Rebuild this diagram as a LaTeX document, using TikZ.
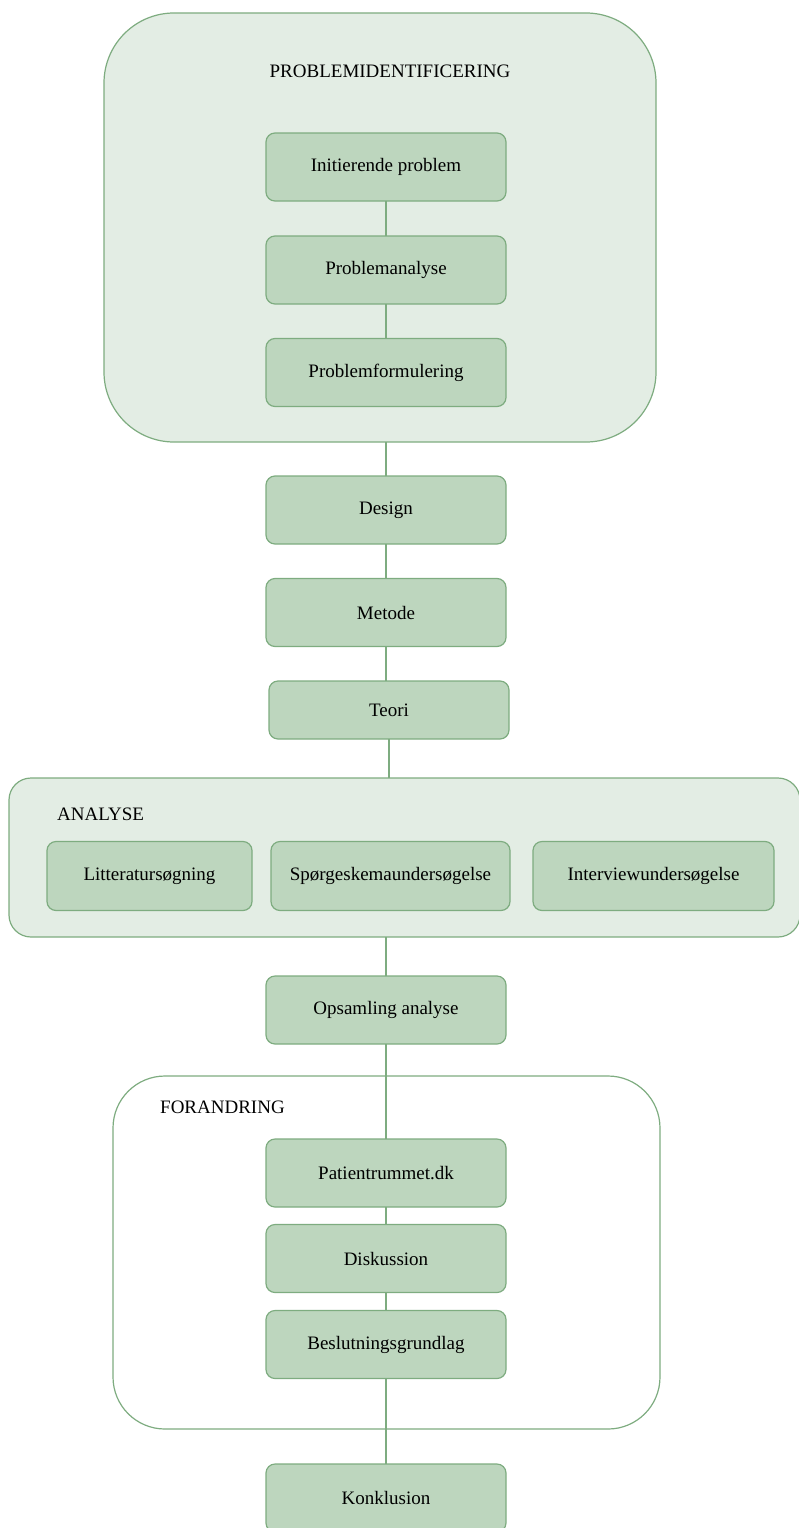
\documentclass[tikz,border=0pt]{standalone}
\usepackage{fontspec}
\setmainfont{Liberation Serif}
\definecolor{boxfill}{RGB}{189,214,190}
\definecolor{boxline}{RGB}{126,172,128}
\definecolor{grpfill}{RGB}{227,237,228}
\tikzset{
  stepbox/.style={draw=boxline, fill=boxfill, line width=1.2pt, rounded corners=9pt,
    minimum width=240pt, minimum height=68pt, inner sep=0pt, outer sep=0pt,
    font=\fontsize{19}{23}\selectfont},
  grp/.style={draw=boxline, line width=1.2pt, inner sep=0pt, outer sep=0pt},
  lbl/.style={font=\fontsize{19}{23}\selectfont, inner sep=0pt},
  conn/.style={draw=boxline, line width=1.2pt}
}
\begin{document}
\begin{tikzpicture}[x=1pt,y=-1pt]
\useasboundingbox (0,0) rectangle (798,1528);
% containers
\node[grp, fill=grpfill, rounded corners=70pt, minimum width=552pt, minimum height=429pt] (top) at (380,227.5) {};
\node[grp, fill=grpfill, rounded corners=22pt, minimum width=791pt, minimum height=159pt] (analyse) at (404.5,857.5) {};
\node[grp, fill=white, rounded corners=52pt, minimum width=547pt, minimum height=353pt] (forandring) at (386.5,1252.5) {};
% labels
\node[lbl] (ltop) at (390,71) {PROBLEMIDENTIFICERING};
\node[lbl, anchor=west] (lana) at (57,814) {ANALYSE};
\node[lbl, anchor=west] (lfor) at (160,1107) {FORANDRING};
% boxes
\node[stepbox] (init) at (386,167) {Initierende problem};
\node[stepbox] (panal) at (386,270) {Problemanalyse};
\node[stepbox] (pform) at (386,372.5) {Problemformulering};
\node[stepbox] (design) at (386,510) {Design};
\node[stepbox] (metode) at (386,612.5) {Metode};
\node[stepbox, minimum height=58pt] (teori) at (389,710) {Teori};
\node[stepbox, minimum width=205pt, minimum height=69pt] (litt) at (149.5,876) {Litteratursøgning};
\node[stepbox, minimum width=239pt, minimum height=69pt] (sporg) at (390.5,876) {Spørgeskemaundersøgelse};
\node[stepbox, minimum width=241pt, minimum height=69pt] (interv) at (653.5,876) {Interviewundersøgelse};
\node[stepbox] (opsaml) at (386,1010) {Opsamling analyse};
\node[stepbox] (patient) at (386,1173) {Patientrummet.dk};
\node[stepbox] (disk) at (386,1258.5) {Diskussion};
\node[stepbox] (beslut) at (386,1344.5) {Beslutningsgrundlag};
\node[stepbox] (konkl) at (386,1498) {Konklusion};
% connectors
\draw[conn] (init) -- (panal);
\draw[conn] (panal) -- (pform);
\draw[conn] (design.north) -- (design.north |- top.south);
\draw[conn] (design) -- (metode);
\draw[conn] (metode.south) -- (metode.south |- teori.north);
\draw[conn] (teori.south) -- (teori.south |- analyse.north);
\draw[conn] (opsaml.north) -- (opsaml.north |- analyse.south);
\draw[conn] (opsaml) -- (patient);
\draw[conn] (patient) -- (disk);
\draw[conn] (disk) -- (beslut);
\draw[conn] (beslut) -- (konkl);
\end{tikzpicture}
\end{document}
